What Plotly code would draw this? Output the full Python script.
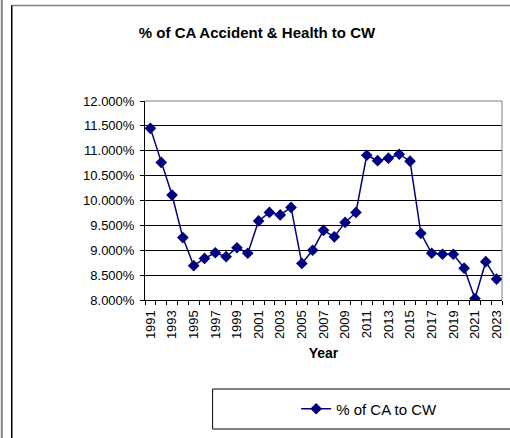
import plotly.graph_objects as go

years = list(range(1991, 2024))
pct_ca_to_cw = [11.45, 10.765, 10.11, 9.255, 8.69, 8.835, 8.95, 8.87, 9.05, 8.94,
                9.59, 9.76, 9.71, 9.86, 8.735, 9.0, 9.4, 9.27, 9.56, 9.76,
                10.91, 10.80, 10.85, 10.93, 10.79, 9.34, 8.94, 8.92, 8.92, 8.64,
                8.03, 8.77, 8.42]
label_years = list(range(1991, 2024, 2))
y_ticks = [8.0, 8.5, 9.0, 9.5, 10.0, 10.5, 11.0, 11.5, 12.0]

W, H = 510, 438
L, R, T, B = 145, 504, 101, 300


def px(x):
    return (x - L) / (R - L)


def py(y):
    return (B - y) / (B - T)


fig = go.Figure()
fig.add_trace(go.Scatter(
    x=years, y=[v / 100 for v in pct_ca_to_cw],
    mode='lines+markers', name='% of CA to CW',
    line=dict(color='#000080', width=1.5),
    marker=dict(symbol='diamond', size=9, color='#000080'),
))

fig.update_layout(
    width=W, height=H,
    margin=dict(l=L, r=W - R, t=T, b=H - B),
    paper_bgcolor='white', plot_bgcolor='white',
    font=dict(family='Arial, Liberation Sans', color='black', size=13),
    title=dict(text='<b>% of CA Accident & Health to CW</b>', x=257 / W, xanchor='center',
               y=1 - 33 / H, yanchor='middle', font=dict(size=15)),
    showlegend=True,
    legend=dict(x=px(297), y=py(409), xanchor='left', yanchor='middle',
                bgcolor='rgba(0,0,0,0)', borderwidth=0, font=dict(size=15)),
)

fig.update_xaxes(
    range=[1990.5, 2023.5], tickvals=label_years, ticktext=[str(y) for y in label_years],
    tickangle=-90, tickfont=dict(size=13), ticks='', showgrid=False, ticklabelstandoff=4,
    showline=True, linecolor='black', linewidth=1, zeroline=False,
    minor=dict(tick0=1990.5, dtick=1, ticks='outside', ticklen=4, tickcolor='black', showgrid=False),
    title=dict(text='<b>Year</b>', font=dict(size=14), standoff=10),
)
fig.update_yaxes(
    range=[0.08, 0.12], tickvals=[v / 100 for v in y_ticks], tickformat='.3%',
    tickfont=dict(size=13), ticks='outside', ticklen=4, tickcolor='black', ticklabelstandoff=3,
    showgrid=True, gridcolor='black', gridwidth=1,
    showline=True, linecolor='black', linewidth=1, zeroline=False,
)

shapes = [
    # plot area outline (top/right grey)
    dict(type='line', xref='paper', yref='paper', x0=0, x1=1, y0=1, y1=1,
         line=dict(color='#808080', width=1)),
    dict(type='line', xref='paper', yref='paper', x0=1, x1=1, y0=0, y1=1,
         line=dict(color='#808080', width=1)),
    # chart border
    dict(type='line', xref='paper', yref='paper', x0=px(11), x1=px(11), y0=py(5), y1=py(440),
         line=dict(color='black', width=1.5)),
    dict(type='line', xref='paper', yref='paper', x0=px(11), x1=px(512), y0=py(5.5), y1=py(5.5),
         line=dict(color='#808080', width=1.5)),
    dict(type='line', xref='paper', yref='paper', x0=px(1), x1=px(1), y0=py(0), y1=py(440),
         line=dict(color='#808080', width=2)),
    # legend box
    dict(type='rect', xref='paper', yref='paper', x0=px(213), x1=px(520), y0=py(389), y1=py(429),
         line=dict(color='black', width=1)),
]
fig.update_layout(shapes=shapes)

fig.write_html('out.html', config={'displayModeBar': False},
               post_script="document.body.style.margin='0';")
